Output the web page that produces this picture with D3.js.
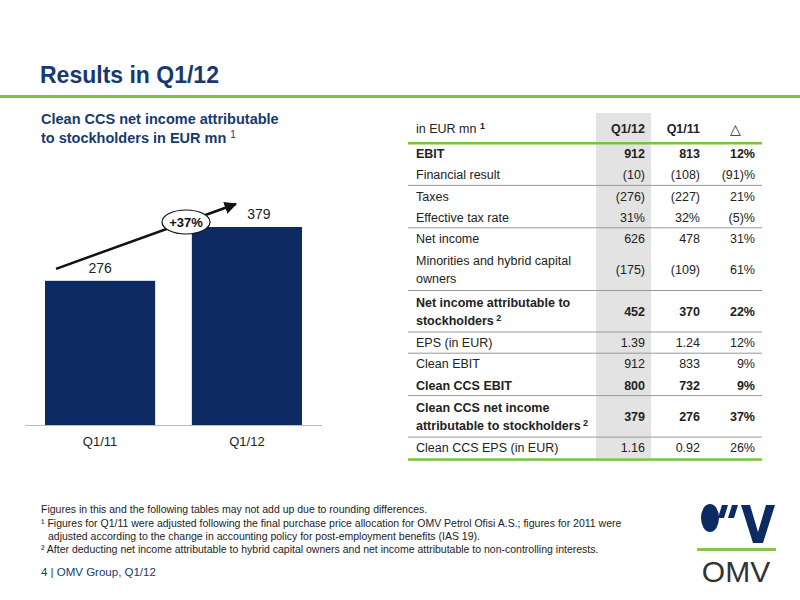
<!DOCTYPE html><html><head><meta charset="utf-8"><script src="https://cdn.jsdelivr.net/npm/d3@7"></script>
<style>body{margin:0;background:#fff}svg{font-family:"Liberation Sans",Arial,sans-serif}</style></head><body>
<svg id="c" width="800" height="600"></svg>
<script>
const categories=["Q1/11","Q1/12"];
const values=[276,379];
const growthLabel="+37%";
const tableHeader=["in EUR mn","Q1/12","Q1/11","\u25B3"];
const rowLabels=[["EBIT"],["Financial result"],["Taxes"],["Effective tax rate"],["Net income"],["Minorities and hybrid capital","owners"],["Net income attributable to","stockholders"],["EPS (in EUR)"],["Clean EBIT"],["Clean CCS EBIT"],["Clean CCS net income","attributable to stockholders"],["Clean CCS EPS (in EUR)"]];
const colQ112=["912","(10)","(276)","31%","626","(175)","452","1.39","912","800","379","1.16"];
const colQ111=["813","(108)","(227)","32%","478","(109)","370","1.24","833","732","276","0.92"];
const colDelta=["12%","(91)%","21%","(5)%","31%","61%","22%","12%","9%","9%","37%","26%"];
const boldRows=[0,6,9,10];
const supRows=[6,10];
const sepAfter=[1,3,5,6,7,9,10];

const svg=d3.select("#c");
const blue="#163a70", green="#7cc242", navy="#0d2a63";
svg.append("text").attr("x",40).attr("y",83).attr("fill",blue).attr("font-size",23).attr("font-weight","bold").text("Results in Q1/12");
svg.append("rect").attr("x",0).attr("y",95).attr("width",800).attr("height",3).attr("fill",green);
const st=svg.append("g").attr("fill",blue).attr("font-size",14.5).attr("font-weight","bold");
st.append("text").attr("x",41).attr("y",124).text("Clean CCS net income attributable");
const t2=st.append("text").attr("x",41).attr("y",143).text("to stockholders in EUR mn ");
t2.append("tspan").attr("font-weight","normal").attr("font-size",10).attr("dy",-5).text("1");

// bars
const x=d3.scaleBand().domain(categories).range([45,302]).paddingInner(0.25).paddingOuter(0);
const y=d3.scaleLinear().domain([0,379]).range([425,227]);
svg.selectAll(".bar").data(values).join("rect").attr("x",(d,i)=>x(categories[i])).attr("y",d=>y(d)).attr("width",x.bandwidth()).attr("height",d=>y(0)-y(d)).attr("fill",navy);
svg.selectAll(".bl").data(values).join("text").attr("x",(d,i)=>x(categories[i])+x.bandwidth()/2+(i?12:0)).attr("y",d=>y(d)-8).attr("text-anchor","middle").attr("font-size",14).attr("fill","#222").text(d=>d);
svg.append("line").attr("x1",25).attr("x2",322).attr("y1",425.5).attr("y2",425.5).attr("stroke","#bbb");
svg.selectAll(".xl").data(categories).join("text").attr("x",d=>x(d)+x.bandwidth()/2).attr("y",446).attr("text-anchor","middle").attr("font-size",13).attr("fill","#222").text(d=>d);
// arrow
const defs=svg.append("defs");
defs.append("marker").attr("id","ah").attr("viewBox","0 0 10 10").attr("refX",9).attr("refY",5).attr("markerWidth",5).attr("markerHeight",5).attr("orient","auto").append("path").attr("d","M0,0L10,5L0,10z").attr("fill","#111");
const cx0=x(categories[0])+x.bandwidth()*0.1, cx1=x(categories[1])+x.bandwidth()*0.4;
svg.append("line").attr("x1",cx0).attr("y1",y(values[0])-12).attr("x2",cx1).attr("y2",y(values[1])-23).attr("stroke","#111").attr("stroke-width",2.5).attr("marker-end","url(#ah)");
svg.append("ellipse").attr("cx",186).attr("cy",222).attr("rx",24).attr("ry",12).attr("fill","#fff").attr("stroke","#111").attr("stroke-width",1.2);
svg.append("text").attr("x",186).attr("y",227).attr("text-anchor","middle").attr("font-size",13).attr("font-weight","bold").attr("fill","#111").text(growthLabel);

// table
const tx0=408, tx1=762, c1=645,c2=700,c3=755;
const rh=rowLabels.map(r=>r.length===1?21.2:41.5);
let yy=143; const tops=[];
rh.forEach(h=>{tops.push(yy);yy+=h;});
const bottom=yy;
svg.append("rect").attr("x",596).attr("y",113).attr("width",55).attr("height",bottom-113).attr("fill","#e3e3e3");
const tg=svg.append("g").attr("font-size",12.5).attr("fill","#222");
const h0=tg.append("text").attr("x",416).attr("y",133).text(tableHeader[0]+" ");
h0.append("tspan").attr("font-size",9).attr("font-weight","bold").attr("dy",-4).text("1");
[[c1,1],[c2,2]].forEach(([cx,i])=>tg.append("text").attr("x",cx).attr("y",133).attr("text-anchor","end").attr("font-weight","bold").text(tableHeader[i]));
tg.append("text").attr("x",735).attr("y",134).attr("text-anchor","middle").attr("font-size",14).text(tableHeader[3]);
rowLabels.forEach((lab,i)=>{
  const b=boldRows.includes(i)?"bold":"normal";
  const mid=tops[i]+rh[i]/2+4.5;
  lab.forEach((l,j)=>{
    const ty=lab.length===1?mid:tops[i]+16+j*18;
    const t=tg.append("text").attr("x",416).attr("y",ty).attr("font-weight",b).text(l);
    if(j===lab.length-1&&supRows.includes(i)) t.append("tspan").attr("font-size",9).attr("dy",-4).text(" 2");
  });
  [[c1,colQ112],[c2,colQ111],[c3,colDelta]].forEach(([cx,arr])=>tg.append("text").attr("x",cx).attr("y",mid).attr("text-anchor","end").attr("font-weight",b).text(arr[i]));
  if(sepAfter.includes(i)) svg.append("line").attr("x1",tx0).attr("x2",tx1).attr("y1",tops[i]+rh[i]).attr("y2",tops[i]+rh[i]).attr("stroke","#999").attr("stroke-width",1);
});
svg.append("rect").attr("x",tx0).attr("y",142).attr("width",tx1-tx0).attr("height",2.5).attr("fill",green);
svg.append("rect").attr("x",tx0).attr("y",bottom).attr("width",tx1-tx0).attr("height",2.5).attr("fill",green);

// footnotes
const fg=svg.append("g").attr("font-size",10.5).attr("fill","#222");
fg.append("text").attr("x",41).attr("y",513).text("Figures in this and the following tables may not add up due to rounding differences.");
fg.append("text").attr("x",41).attr("y",527).text("\u00B9 Figures for Q1/11 were adjusted following the final purchase price allocation for OMV Petrol Ofisi A.S.; figures for 2011 were");
fg.append("text").attr("x",48).attr("y",540).text("adjusted according to the change in accounting policy for post-employment benefits (IAS 19).");
fg.append("text").attr("x",41).attr("y",553).text("\u00B2 After deducting net income attributable to hybrid capital owners and net income attributable to non-controlling interests.");
svg.append("text").attr("x",41).attr("y",576).attr("font-size",11.5).attr("fill",blue).text("4 | OMV Group, Q1/12");
// logo
const lg=svg.append("g");
lg.append("ellipse").attr("cx",710).attr("cy",518).attr("rx",9).attr("ry",14).attr("fill",navy);
lg.append("path").attr("d","M722,505h6l-4,13h-6zM732,505h6l-4,13h-6zM741,505h9l8,27l8,-27h9l-12,38h-10z").attr("fill",navy);
lg.append("rect").attr("x",697).attr("y",548).attr("width",79).attr("height",3).attr("fill","#8cc152");
lg.append("text").attr("x",736).attr("y",582).attr("text-anchor","middle").attr("font-size",30).attr("fill","#333").text("OMV");
</script></body></html>
